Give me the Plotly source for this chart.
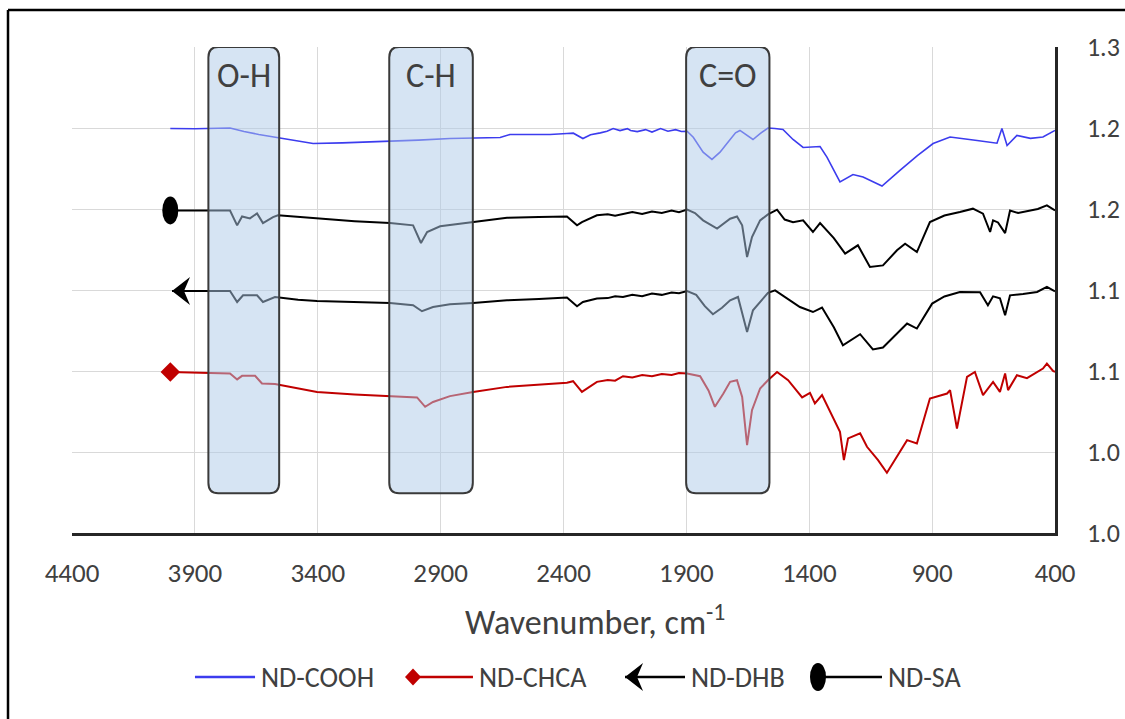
import plotly.graph_objects as go

# ---------------- data (wavenumber cm-1, intensity) ----------------
cooh_w = [4000, 3900, 3757, 3700, 3640, 3566, 3480, 3419, 3300, 3106, 2990, 2862, 2700, 2658, 2618, 2455, 2386, 2360, 2321, 2290,
          2250, 2223, 2198, 2170, 2140, 2127, 2100, 2066, 2040, 2005, 1975, 1944, 1920, 1897, 1872, 1832, 1796, 1763, 1735, 1700,
          1682, 1655, 1629, 1600, 1568, 1540, 1507, 1466, 1425, 1356, 1328, 1275, 1222, 1181, 1104, 1031, 960, 896, 827, 717,
          660, 636, 616, 595, 555, 500, 449, 400]
cooh_v = [1.2497, 1.2495, 1.2500, 1.2478, 1.2460, 1.2441, 1.2418, 1.2404, 1.2408, 1.2417, 1.2425, 1.2435, 1.2440, 1.2441, 1.2460, 1.2460, 1.2466, 1.2468, 1.2435, 1.2458,
          1.2470, 1.2480, 1.2497, 1.2484, 1.2496, 1.2485, 1.2478, 1.2490, 1.2475, 1.2497, 1.2480, 1.2490, 1.2478, 1.2480, 1.2443, 1.2351, 1.2306, 1.2351, 1.2404, 1.2470,
          1.2485, 1.2455, 1.2429, 1.2465, 1.2500, 1.2497, 1.2491, 1.2429, 1.2380, 1.2386, 1.2320, 1.2167, 1.2213, 1.2198, 1.2142, 1.2238, 1.2330, 1.2404, 1.2444, 1.2423,
          1.2410, 1.2406, 1.2497, 1.2392, 1.2454, 1.2436, 1.2444, 1.2485]

sa_w = [4000, 3900, 3757, 3728, 3708, 3676, 3647, 3623, 3582, 3562, 3480, 3403, 3250, 3106, 3012, 2980, 2955, 2902, 2768, 2630,
        2500, 2386, 2345, 2325, 2264, 2220, 2190, 2158, 2120, 2080, 2040, 2000, 1960, 1930, 1897, 1865, 1832, 1775, 1722, 1694,
        1673, 1653, 1633, 1600, 1568, 1531, 1500, 1466, 1425, 1385, 1356, 1300, 1254, 1202, 1153, 1100, 1043, 1010, 962, 909,
        850, 787, 734, 693, 664, 652, 632, 603, 583, 550, 514, 470, 433, 400]
sa_v = [1.1991, 1.1990, 1.1991, 1.1899, 1.1954, 1.1942, 1.1973, 1.1913, 1.1950, 1.1961, 1.1952, 1.1940, 1.1925, 1.1913, 1.1899, 1.1790, 1.1858, 1.1893, 1.1919, 1.1946,
        1.1950, 1.1954, 1.1899, 1.1919, 1.1961, 1.1968, 1.1958, 1.1971, 1.1982, 1.1970, 1.1985, 1.1975, 1.1990, 1.1980, 1.1996, 1.1975, 1.1930, 1.1879, 1.1940, 1.1954,
        1.1899, 1.1703, 1.1827, 1.1930, 1.1967, 1.1996, 1.1935, 1.1919, 1.1930, 1.1858, 1.1913, 1.1820, 1.1724, 1.1776, 1.1642, 1.1652, 1.1745, 1.1786, 1.1734, 1.1919,
        1.1960, 1.1981, 1.2002, 1.1971, 1.1858, 1.1930, 1.1917, 1.1851, 1.1991, 1.1975, 1.1985, 1.2000, 1.2022, 1.1991]

dhb_w = [3993, 3900, 3757, 3728, 3704, 3647, 3623, 3574, 3480, 3403, 3250, 3106, 3012, 2976, 2931, 2862, 2768, 2630, 2500, 2386,
         2345, 2321, 2264, 2220, 2190, 2158, 2120, 2080, 2040, 2000, 1960, 1930, 1897, 1860, 1825, 1792, 1755, 1722, 1690, 1653,
         1629, 1568, 1539, 1490, 1438, 1385, 1348, 1300, 1263, 1193, 1141, 1100, 1002, 962, 900, 850, 787, 705, 673, 652,
         624, 603, 583, 530, 473, 433, 400]
dhb_v = [1.1494, 1.1494, 1.1494, 1.1426, 1.1467, 1.1467, 1.1426, 1.1457, 1.1440, 1.1432, 1.1425, 1.1420, 1.1406, 1.1369, 1.1395, 1.1412, 1.1420, 1.1436, 1.1445, 1.1453,
         1.1400, 1.1426, 1.1447, 1.1450, 1.1462, 1.1457, 1.1470, 1.1462, 1.1478, 1.1470, 1.1485, 1.1480, 1.1494, 1.1470, 1.1400, 1.1350, 1.1390, 1.1436, 1.1457, 1.1241,
         1.1375, 1.1482, 1.1498, 1.1450, 1.1395, 1.1364, 1.1392, 1.1270, 1.1159, 1.1227, 1.1133, 1.1145, 1.1293, 1.1262, 1.1416, 1.1460, 1.1488, 1.1486, 1.1406, 1.1461,
         1.1449, 1.1344, 1.1467, 1.1475, 1.1488, 1.1519, 1.1492]

chca_w = [4000, 3900, 3757, 3728, 3708, 3655, 3627, 3574, 3480, 3403, 3250, 3106, 2996, 2963, 2931, 2862, 2768, 2630, 2500, 2386,
          2361, 2325, 2264, 2220, 2190, 2158, 2120, 2080, 2040, 2000, 1960, 1930, 1897, 1844, 1810, 1784, 1750, 1722, 1694, 1673,
          1653, 1633, 1600, 1568, 1531, 1486, 1429, 1397, 1377, 1348, 1275, 1259, 1242, 1193, 1165, 1120, 1084, 1002, 962, 909,
          839, 827, 799, 758, 726, 693, 652, 624, 603, 591, 555, 514, 449, 433, 408, 400]
chca_v = [1.0994, 1.0990, 1.0985, 1.0948, 1.0970, 1.0970, 1.0923, 1.0919, 1.0895, 1.0871, 1.0855, 1.0845, 1.0837, 1.0779, 1.0809, 1.0845, 1.0871, 1.0902, 1.0915, 1.0927,
          1.0937, 1.0871, 1.0933, 1.0945, 1.0940, 1.0968, 1.0960, 1.0975, 1.0968, 1.0982, 1.0975, 1.0988, 1.0985, 1.0968, 1.0880, 1.0779, 1.0860, 1.0933, 1.0943, 1.0840,
          1.0543, 1.0758, 1.0892, 1.0943, 1.0994, 1.0943, 1.0837, 1.0865, 1.0800, 1.0851, 1.0625, 1.0450, 1.0584, 1.0615, 1.0532, 1.0450, 1.0372, 1.0573, 1.0553, 1.0830,
          1.0861, 1.0882, 1.0645, 1.0964, 1.0994, 1.0851, 1.0933, 1.0871, 1.0985, 1.0882, 1.0974, 1.0956, 1.1015, 1.1046, 1.1000, 1.0994]

series_names = ["ND-COOH", "ND-CHCA", "ND-DHB", "ND-SA"]

# highlighted band regions (wavenumber from, to) and their labels
band_labels = ["O-H", "C-H", "C=O"]
band_from = [3845, 3109, 1901]
band_to = [3557, 2769, 1562]
band_bottom = 1.0245
band_top = 1.3

x_ticks = [4400, 3900, 3400, 2900, 2400, 1900, 1400, 900, 400]
y_ticks = [1.0, 1.05, 1.1, 1.15, 1.2, 1.25, 1.3]
y_ticktext = ["1.0", "1.0", "1.1", "1.1", "1.2", "1.2", "1.3"]

FONT = "Carlito, Lato, sans-serif"
TXT = "#404040"
BLUE = "#3c3cee"
RED = "#c00000"
BLACK = "#000000"

fig = go.Figure()
fig.add_trace(go.Scatter(x=cooh_w, y=cooh_v, mode="lines", line=dict(color=BLUE, width=1.6),
                         name=series_names[0], showlegend=False))
fig.add_trace(go.Scatter(x=chca_w, y=chca_v, mode="lines", line=dict(color=RED, width=2),
                         name=series_names[1], showlegend=False))
fig.add_trace(go.Scatter(x=dhb_w, y=dhb_v, mode="lines", line=dict(color=BLACK, width=2),
                         name=series_names[2], showlegend=False))
fig.add_trace(go.Scatter(x=sa_w, y=sa_v, mode="lines", line=dict(color=BLACK, width=2),
                         name=series_names[3], showlegend=False))
# start marker of ND-CHCA
fig.add_trace(go.Scatter(x=[chca_w[0]], y=[chca_v[0]], mode="markers",
                         marker=dict(symbol="diamond", size=15, color=RED), showlegend=False, hoverinfo="skip"))

shapes = []
ARROW = "M 0,0 L 18,14 L 12,0 L 18,-14 Z"
# arrow head at start of ND-DHB
shapes.append(dict(type="path", xref="x", yref="y", xsizemode="pixel", ysizemode="pixel",
                   xanchor=dhb_w[0], yanchor=dhb_v[0], path=ARROW,
                   fillcolor=BLACK, line=dict(width=0), layer="above"))
# ellipse at start of ND-SA
shapes.append(dict(type="circle", xref="x", yref="y", xsizemode="pixel", ysizemode="pixel",
                   xanchor=sa_w[0], yanchor=sa_v[0], x0=-8, x1=8, y0=-14, y1=14,
                   fillcolor=BLACK, line=dict(width=0), layer="above"))

# rounded band boxes
rx, ry = 40, 0.0065
annotations = []
for lab, a, b in zip(band_labels, band_from, band_to):
    L, R, yb, yt = a, b, band_bottom, band_top
    path = (f"M {L-rx},{yt} L {R+rx},{yt} Q {R},{yt} {R},{yt-ry} L {R},{yb+ry} "
            f"Q {R},{yb} {R+rx},{yb} L {L-rx},{yb} Q {L},{yb} {L},{yb+ry} L {L},{yt-ry} "
            f"Q {L},{yt} {L-rx},{yt} Z")
    shapes.append(dict(type="path", xref="x", yref="y", path=path,
                       fillcolor="rgba(173,202,232,0.5)", line=dict(color="#3a3a3a", width=2),
                       layer="above"))
    annotations.append(dict(x=(a + b) / 2, y=1.2824, xref="x", yref="y", text=lab, showarrow=False,
                            font=dict(family=FONT, size=34, color=TXT), xanchor="center", yanchor="middle"))

# outer frame (left and top edges)
shapes.append(dict(type="line", xref="paper", yref="paper", x0=-0.0651, x1=-0.0651, y0=-0.40, y1=1.0761,
                   line=dict(color=BLACK, width=2.5)))
shapes.append(dict(type="line", xref="paper", yref="paper", x0=-0.0651, x1=1.08, y0=1.0761, y1=1.0761,
                   line=dict(color=BLACK, width=2.5)))

# custom legend
LEG_Y = -0.2963
leg = [
    (series_names[0], 0.1251, 0.1862, BLUE, None),
    (series_names[1], 0.3469, 0.4079, RED, "diamond"),
    (series_names[2], 0.5626, 0.6236, BLACK, "arrow"),
    (series_names[3], 0.7589, 0.8240, BLACK, "ellipse"),
]
for name, x0, x1, col, mk in leg:
    shapes.append(dict(type="line", xref="paper", yref="paper", x0=x0, x1=x1, y0=LEG_Y, y1=LEG_Y,
                       line=dict(color=col, width=2.5)))
    if mk == "diamond":
        shapes.append(dict(type="path", xref="paper", yref="paper", xsizemode="pixel", ysizemode="pixel",
                           xanchor=x0, yanchor=LEG_Y, path="M -8,0 L 0,8.5 L 8,0 L 0,-8.5 Z",
                           fillcolor=RED, line=dict(width=0)))
    elif mk == "arrow":
        shapes.append(dict(type="path", xref="paper", yref="paper", xsizemode="pixel", ysizemode="pixel",
                           xanchor=x0, yanchor=LEG_Y, path=ARROW, fillcolor=BLACK, line=dict(width=0)))
    elif mk == "ellipse":
        shapes.append(dict(type="circle", xref="paper", yref="paper", xsizemode="pixel", ysizemode="pixel",
                           xanchor=x0, yanchor=LEG_Y, x0=-8, x1=8, y0=-14, y1=14,
                           fillcolor=BLACK, line=dict(width=0)))
    annotations.append(dict(x=x1 + 0.004, y=LEG_Y, xref="paper", yref="paper", text=name, showarrow=False,
                            xanchor="left", yanchor="middle", font=dict(family=FONT, size=28, color=TXT)))

# axis title
annotations.append(dict(x=0.532, y=-0.179, xref="paper", yref="paper", text="Wavenumber, cm<sup>-1</sup>",
                        showarrow=False, xanchor="center", yanchor="middle",
                        font=dict(family=FONT, size=34, color=TXT)))

fig.update_layout(
    width=1125, height=719,
    margin=dict(l=72, r=70, t=47, b=186, autoexpand=False),
    paper_bgcolor="white", plot_bgcolor="white",
    font=dict(family=FONT, color=TXT),
    shapes=shapes, annotations=annotations,
    showlegend=False,
)
fig.update_xaxes(range=[4400, 400], tickvals=x_ticks, ticktext=[str(t) for t in x_ticks],
                 showgrid=True, gridcolor="#d9d9d9", gridwidth=1.2, automargin=False,
                 showline=True, linecolor="#262626", linewidth=2.5, zeroline=False,
                 ticks="", ticklabelstandoff=14, tickfont=dict(family=FONT, size=27, color=TXT))
fig.update_yaxes(range=[1.0, 1.3], side="right", tickvals=y_ticks, ticktext=y_ticktext,
                 showgrid=True, gridcolor="#d9d9d9", gridwidth=1.2, automargin=False,
                 showline=True, linecolor="#262626", linewidth=2.5, zeroline=False,
                 ticks="", ticklabelstandoff=24, tickfont=dict(family=FONT, size=26, color=TXT))

fig.write_html("out.html", config={"displayModeBar": False},
               post_script="document.body.style.margin='0';")
